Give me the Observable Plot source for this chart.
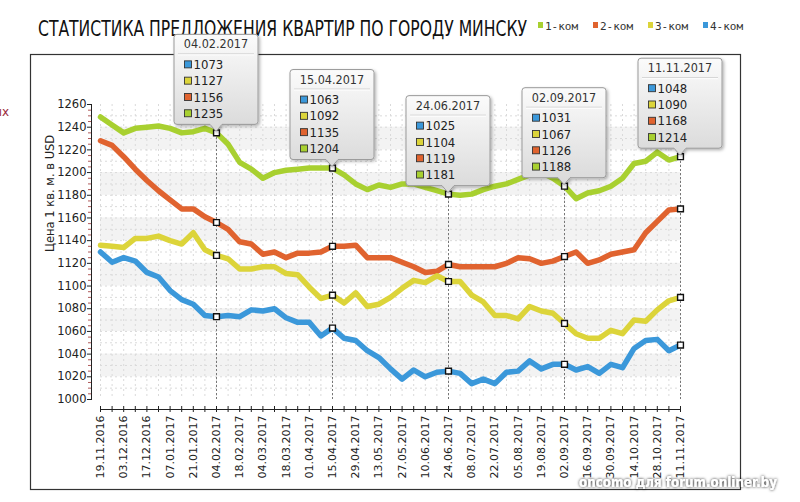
<!DOCTYPE html>
<html><head><meta charset="utf-8">
<script src="https://cdn.jsdelivr.net/npm/d3@7"></script>
<script src="https://cdn.jsdelivr.net/npm/@observablehq/plot@0.6"></script>
<style>
html,body{margin:0;padding:0;background:#fff;}
#chart{position:relative;width:800px;height:502px;overflow:hidden;}
svg{display:block;}
</style></head><body><div id="chart"></div>
<script>
const dates = ["19.11.2016","26.11.2016","03.12.2016","10.12.2016","17.12.2016","24.12.2016","07.01.2017","14.01.2017","21.01.2017","28.01.2017",
"04.02.2017","11.02.2017","18.02.2017","25.02.2017","04.03.2017","11.03.2017","18.03.2017","25.03.2017","01.04.2017","08.04.2017",
"15.04.2017","22.04.2017","29.04.2017","06.05.2017","13.05.2017","20.05.2017","27.05.2017","03.06.2017","10.06.2017","17.06.2017",
"24.06.2017","01.07.2017","08.07.2017","15.07.2017","22.07.2017","29.07.2017","05.08.2017","12.08.2017","19.08.2017","26.08.2017",
"02.09.2017","09.09.2017","16.09.2017","23.09.2017","30.09.2017","07.10.2017","14.10.2017","21.10.2017","28.10.2017","04.11.2017",
"11.11.2017"];
const room1 = [1249,1242,1235,1239,1240,1241,1239,1235,1236,1239,
1235,1225,1209,1203,1195,1200,1202,1203,1204,1204,
1204,1198,1190,1185,1189,1187,1190,1190,1187,1184,
1181,1180,1181,1185,1188,1190,1194,1198,1200,1195,
1188,1177,1182,1184,1188,1195,1208,1210,1218,1211,
1214];
const room2 = [1228,1224,1214,1203,1193,1184,1176,1168,1168,1161,
1156,1150,1139,1137,1128,1130,1125,1129,1129,1130,
1135,1135,1136,1125,1125,1125,1121,1117,1112,1113,
1119,1117,1117,1117,1117,1120,1125,1124,1120,1122,
1126,1130,1120,1123,1128,1130,1132,1147,1157,1167,
1168];
const room3 = [1136,1135,1134,1142,1142,1144,1140,1137,1147,1132,
1127,1124,1115,1115,1117,1117,1111,1110,1099,1089,
1092,1085,1094,1082,1084,1090,1098,1105,1103,1109,
1104,1104,1092,1086,1074,1074,1071,1082,1078,1076,
1067,1058,1054,1054,1061,1058,1070,1069,1079,1087,
1090];
const room4 = [1130,1121,1125,1122,1112,1108,1096,1088,1084,1074,
1073,1074,1073,1079,1078,1080,1072,1068,1068,1056,
1063,1054,1052,1043,1037,1027,1018,1026,1020,1024,
1025,1023,1014,1018,1014,1024,1025,1034,1027,1031,
1031,1026,1029,1023,1031,1028,1045,1052,1053,1043,
1048];
const seriesNames = ["1-ком","2-ком","3-ком","4-ком"];
const seriesColors = ["#a8d030","#e0632f","#dcd43a","#3b98da"];
const highlightDates = ["04.02.2017","15.04.2017","24.06.2017","02.09.2017","11.11.2017"];
const yTicks = [1000,1020,1040,1060,1080,1100,1120,1140,1160,1180,1200,1220,1240,1260];
const bands = [[1020,1040],[1060,1080],[1100,1120],[1140,1160],[1180,1200],[1220,1240]];
const titleText = "СТАТИСТИКА ПРЕДЛОЖЕНИЯ КВАРТИР ПО ГОРОДУ МИНСКУ";
const yLabel = "Цена 1 кв. м. в USD";
const watermark = "oncomo для forum.onliner.by";

const seriesValues = [room1, room2, room3, room4];
const rows = seriesNames.flatMap((s, k) => seriesValues[k].map((v, i) => ({date: dates[i], value: v, series: s})));
const labelDates = dates.filter((d, i) => i % 2 === 0);
const hlRows = rows.filter(r => highlightDates.includes(r.date));
const minorTicks = d3.range(1005, 1260, 5).filter(v => v % 20 !== 0);
const gridH = d3.range(1010, 1260, 10);

const plot = Plot.plot({
  width: 800, height: 502,
  marginLeft: 100, marginRight: 120, marginTop: 104, marginBottom: 103,
  style: {fontFamily: "DejaVu Sans", fontSize: "11px", color: "#222", background: "transparent", overflow: "visible"},
  x: {type: "point", domain: dates, padding: 0, round: false},
  y: {domain: [1000, 1260]},
  color: {domain: seriesNames, range: seriesColors},
  marks: [
    Plot.rectY(bands, {y1: d => d[0], y2: d => d[1], fill: "#f3f3f3"}),
    Plot.gridY({ticks: gridH, stroke: "#dadada", strokeOpacity: 1, strokeDasharray: "2,3"}),
    Plot.gridX({ticks: dates, stroke: "#dadada", strokeOpacity: 1, strokeDasharray: "2,3"}),
    Plot.ruleX(highlightDates, {x: d => d, y1: 1000, y2: 1260, stroke: "#777", strokeDasharray: "2,2", strokeWidth: 1}),
    Plot.ruleX([0], {x: () => dates[0], y1: 1000, y2: 1260, dx: -9, stroke: "#222", strokeWidth: 1}),
    Plot.axisY({ticks: minorTicks, tickSize: 3, tickFormat: () => "", dx: -9, stroke: "#b05a5a", label: null}),
    Plot.axisY({ticks: yTicks, tickSize: 5, tickPadding: 1, dx: -8, label: null, fontSize: 11.5, tickFormat: d3.format("d")}),
    Plot.text([yLabel], {text: d => d, frameAnchor: "left", rotate: -90, dx: -50, fontSize: 11.5, fill: "#222"}),
    Plot.ruleY([0], {y: () => 1000, dy: 10, stroke: "#222", strokeWidth: 1}),
    Plot.axisX({ticks: dates, tickSize: 6, tickFormat: () => "", dy: 7, label: null, stroke: "#222"}),
    Plot.axisX({ticks: labelDates, tickSize: 0, tickPadding: 16, tickRotate: -90, label: null, fontSize: 11}),
    Plot.line(rows, {x: "date", y: "value", z: "series", stroke: "series", strokeWidth: 5.5, strokeLinejoin: "round", strokeLinecap: "round"}),
    Plot.dot(hlRows, {x: "date", y: "value", symbol: "square", r: 3.3, fill: "white", stroke: "#111", strokeWidth: 1.4})
  ]
});
document.getElementById("chart").appendChild(plot);

const svg = d3.select(plot);
const xs = plot.scale("x"), ys = plot.scale("y");
const xf = xs.apply ? (d => xs.apply(d)) : d3.scalePoint(xs.domain, xs.range);
const yf = ys.apply ? (v => ys.apply(v)) : d3.scaleLinear(ys.domain, ys.range);

const defs = svg.insert("defs", ":first-child");
const grad = defs.append("linearGradient").attr("id", "tipGrad").attr("x1", 0).attr("y1", 0).attr("x2", 0).attr("y2", 1);
grad.append("stop").attr("offset", "0%").attr("stop-color", "#fbfbfb");
grad.append("stop").attr("offset", "100%").attr("stop-color", "#d9d9d9");
const flt = defs.append("filter").attr("id", "tipShadow").attr("x", "-20%").attr("y", "-20%").attr("width", "140%").attr("height", "140%");
flt.append("feDropShadow").attr("dx", 1.5).attr("dy", 1.5).attr("stdDeviation", 1.5).attr("flood-color", "#000").attr("flood-opacity", 0.3);
const wf = defs.append("filter").attr("id", "wmShadow").attr("x", "-10%").attr("y", "-40%").attr("width", "120%").attr("height", "180%");
wf.append("feDropShadow").attr("dx", 0).attr("dy", 0).attr("stdDeviation", 1.6).attr("flood-color", "#000").attr("flood-opacity", 0.9);

// outer frame (behind everything)
svg.insert("rect", "defs + *").attr("x", 30.5).attr("y", 54.5).attr("width", 710).attr("height", 435)
  .attr("fill", "none").attr("stroke", "#333").attr("stroke-width", 1.2);

const overlay = svg.append("g").attr("text-anchor", "start");

// title
overlay.append("text").attr("x", 38).attr("y", 36).attr("font-family", "'Liberation Sans Narrow','DejaVu Sans Condensed',sans-serif")
  .attr("font-size", 21).attr("fill", "#111").attr("textLength", 489).attr("lengthAdjust", "spacingAndGlyphs").text(titleText);

// legend
seriesNames.forEach((s, k) => {
  const lx = 538 + k * 55;
  overlay.append("rect").attr("x", lx).attr("y", 22).attr("width", 5).attr("height", 6).attr("fill", seriesColors[k]);
  overlay.append("text").attr("x", lx + 7).attr("y", 30).attr("font-family", "'DejaVu Sans Mono',monospace")
    .attr("font-size", 11).attr("fill", "#333").text(s);
});

// cropped fragment at left edge
overlay.append("text").attr("x", 9).attr("y", 116).attr("text-anchor", "end").attr("font-family", "DejaVu Sans")
  .attr("font-size", 12).attr("fill", "#9a2a3a").text("ых");

// tooltips
function tipPath(l, t, w, h, px, r = 3, pw = 6, ph = 7) {
  const R = l + w, B = t + h;
  return `M${l + r},${t}H${R - r}Q${R},${t} ${R},${t + r}V${B - r}Q${R},${B} ${R - r},${B}H${px + pw}L${px},${B + ph}L${px - pw},${B}H${l + r}Q${l},${B} ${l},${B - r}V${t + r}Q${l},${t} ${l + r},${t}Z`;
}
const order = [3, 2, 1, 0];
highlightDates.forEach(d => {
  const i = dates.indexOf(d);
  const px = xf(d), py = yf(room1[i]);
  const w = 84, h = 90;
  const B = py - 8, t = B - h, l = px - w / 2;
  const g = overlay.append("g");
  g.append("path").attr("d", tipPath(l, t, w, h, px)).attr("fill", "url(#tipGrad)")
    .attr("stroke", "#9a9a9a").attr("stroke-width", 1).attr("filter", "url(#tipShadow)");
  g.append("text").attr("x", px).attr("y", t + 14).attr("text-anchor", "middle")
    .attr("font-family", "'DejaVu Sans Condensed','DejaVu Sans',sans-serif").attr("font-size", 12.5).attr("fill", "#333").text(d);
  g.append("line").attr("x1", l + 4).attr("x2", l + w - 4).attr("y1", t + 19.5).attr("y2", t + 19.5).attr("stroke", "#d0d0d0");
  g.append("line").attr("x1", l + 4).attr("x2", l + w - 4).attr("y1", t + 20.5).attr("y2", t + 20.5).attr("stroke", "#fff");
  order.forEach((k, j) => {
    const cy = t + 30 + j * 16.3;
    g.append("rect").attr("x", l + 10.5).attr("y", cy - 3.5).attr("width", 7).attr("height", 7)
      .attr("fill", seriesColors[k]).attr("stroke", "#333").attr("stroke-width", 0.9);
    g.append("text").attr("x", l + 19.5).attr("y", cy + 4.6).attr("text-anchor", "start")
      .attr("font-family", "'DejaVu Sans Condensed','DejaVu Sans',sans-serif").attr("font-size", 13).attr("fill", "#222")
      .text(seriesValues[k][i]);
  });
});

// watermark
overlay.append("text").attr("x", 579).attr("y", 487).attr("font-family", "'DejaVu Sans',sans-serif").attr("font-weight", "bold")
  .attr("font-size", 14).attr("fill", "#fff").attr("textLength", 198).attr("lengthAdjust", "spacingAndGlyphs")
  .attr("filter", "url(#wmShadow)").text(watermark);
</script></body></html>
